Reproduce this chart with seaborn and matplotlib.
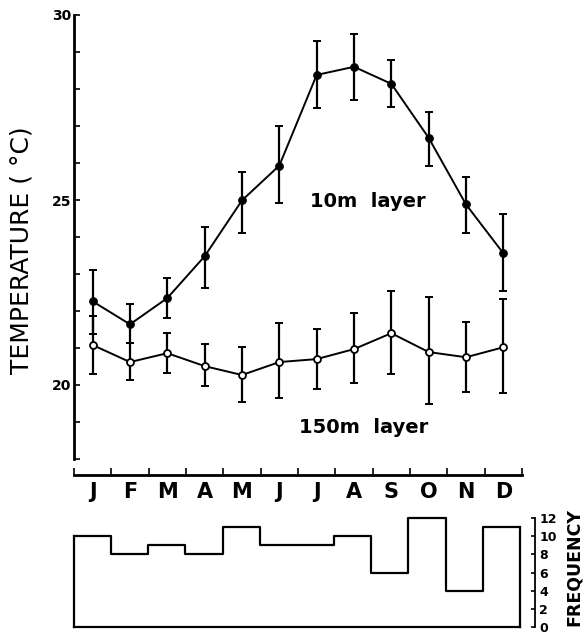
import numpy as np
import pandas as pd
import matplotlib
matplotlib.use("Agg")
import matplotlib.pyplot as plt
import seaborn as sns

# ---- data ----
months = ["J", "F", "M", "A", "M", "J", "J", "A", "S", "O", "N", "D"]
t10_mean = [22.26, 21.64, 22.35, 23.48, 24.99, 25.93, 28.38, 28.60, 28.14, 26.68, 24.88, 23.56]
t10_low = [21.37, 21.13, 21.81, 22.61, 24.12, 24.91, 27.49, 27.71, 27.52, 25.93, 24.12, 22.53]
t10_high = [23.10, 22.18, 22.88, 24.26, 25.77, 27.01, 29.30, 29.49, 28.79, 27.39, 25.61, 24.61]
t150_mean = [21.08, 20.62, 20.86, 20.51, 20.27, 20.62, 20.70, 20.97, 21.40, 20.89, 20.75, 21.02]
t150_low = [20.30, 20.13, 20.32, 19.97, 19.54, 19.65, 19.89, 20.05, 20.30, 19.49, 19.81, 19.78]
t150_high = [21.86, 21.13, 21.40, 21.11, 21.02, 21.67, 21.51, 21.94, 22.53, 22.37, 21.70, 22.32]
frequency = [10, 8, 9, 8, 11, 9, 9, 10, 6, 12, 4, 11]
y_ticks = [18, 19, 20, 21, 22, 23, 24, 25, 26, 27, 28, 29, 30]
y_labels = ["", "", "20", "", "", "", "", "25", "", "", "", "", "30"]
freq_ticks = [0, 2, 4, 6, 8, 10, 12]

sns.set_style("ticks")
plt.rcParams["font.family"] = ["DejaVu Sans"]
plt.rcParams.update({
    "text.color": "black", "axes.labelcolor": "black", "axes.edgecolor": "black",
    "xtick.color": "black", "ytick.color": "black",
})

idx = np.arange(len(months))
df = pd.DataFrame({"m": idx, "t10": t10_mean, "t150": t150_mean, "freq": frequency})

fig = plt.figure(figsize=(5.87, 6.37), dpi=100)
W, H = 587, 637

# ---------------- top panel ----------------
ax = fig.add_axes([74 / W, (H - 459) / H, 448 / W, 444 / H])
sns.lineplot(data=df, x="m", y="t10", ax=ax, color="black", lw=1.4,
             marker="o", markersize=5.5, markerfacecolor="black",
             markeredgecolor="black", zorder=3)
sns.lineplot(data=df, x="m", y="t150", ax=ax, color="black", lw=1.4,
             marker="o", markersize=5, markerfacecolor="white",
             markeredgecolor="black", markeredgewidth=1.3, zorder=3)
m10 = np.array(t10_mean)
m150 = np.array(t150_mean)
ax.errorbar(idx, m10, yerr=[m10 - np.array(t10_low), np.array(t10_high) - m10],
            fmt="none", ecolor="black", elinewidth=1.6, capsize=3, capthick=1.4, zorder=2)
ax.errorbar(idx, m150, yerr=[m150 - np.array(t150_low), np.array(t150_high) - m150],
            fmt="none", ecolor="black", elinewidth=1.6, capsize=3, capthick=1.4, zorder=2)

ax.set_xlim(-0.5, 11.5)
ax.set_ylim(18, 30)
ax.set_xlabel("")
ax.set_ylabel("TEMPERATURE ( °C)", fontsize=18)
ax.yaxis.set_label_coords(-0.09, 0.47)
for s in ["top", "right"]:
    ax.spines[s].set_visible(False)
ax.spines["left"].set_linewidth(2)
ax.spines["bottom"].set_linewidth(2)
ax.spines["bottom"].set_position(("outward", 11.5))
ax.set_yticks(y_ticks)
ax.set_yticklabels(y_labels, fontsize=10, fontweight="bold")
ax.tick_params(axis="y", direction="in", length=4, width=1.2, pad=2)
ax.set_xticks(idx)
ax.set_xticklabels(months, fontsize=15, fontweight="bold")
ax.set_xticks(np.arange(-0.5, 12.0, 1.0), minor=True)
ax.tick_params(axis="x", which="major", length=0, pad=5)
ax.tick_params(axis="x", which="minor", direction="in", length=5, width=1.2)

ax.text(7.36, 24.96, "10m  layer", ha="center", va="center", fontsize=14, fontweight="semibold")
ax.text(7.25, 18.84, "150m  layer", ha="center", va="center", fontsize=14, fontweight="semibold")

# ---------------- bottom panel ----------------
bx = fig.add_axes([74 / W, (H - 627) / H, 446 / W, 109 / H])
sns.histplot(data=df, x="m", weights="freq", discrete=True,
             element="step", fill=False, color="black", lw=1.6, ax=bx)
bx.set_xlim(-0.5, 11.5)
bx.set_ylim(0, 12)
bx.set_xticks([])
bx.set_yticks([])
bx.set_xlabel("")
bx.set_ylabel("")
bx.spines["top"].set_visible(False)
for s in ["left", "right", "bottom"]:
    bx.spines[s].set_linewidth(1.6)
bx.spines["left"].set_bounds(0, frequency[0])
bx.spines["right"].set_bounds(0, frequency[-1])
for ln in bx.lines:
    ln.set_clip_on(False)

bx2 = bx.twinx()
bx2.set_ylim(0, 12)
for s in ["top", "left", "bottom"]:
    bx2.spines[s].set_visible(False)
bx2.spines["right"].set_position(("outward", 11))
bx2.spines["right"].set_linewidth(1.3)
bx2.set_yticks(freq_ticks)
bx2.set_yticklabels([str(v) for v in freq_ticks], fontsize=9, fontweight="bold")
bx2.tick_params(axis="y", direction="in", length=3, width=1.2, pad=3)
bx2.set_ylabel("FREQUENCY", fontsize=12.5, fontweight="bold")
bx2.yaxis.set_label_coords(1.1, 0.55)

fig.savefig("out.png", dpi=100, facecolor="white")
